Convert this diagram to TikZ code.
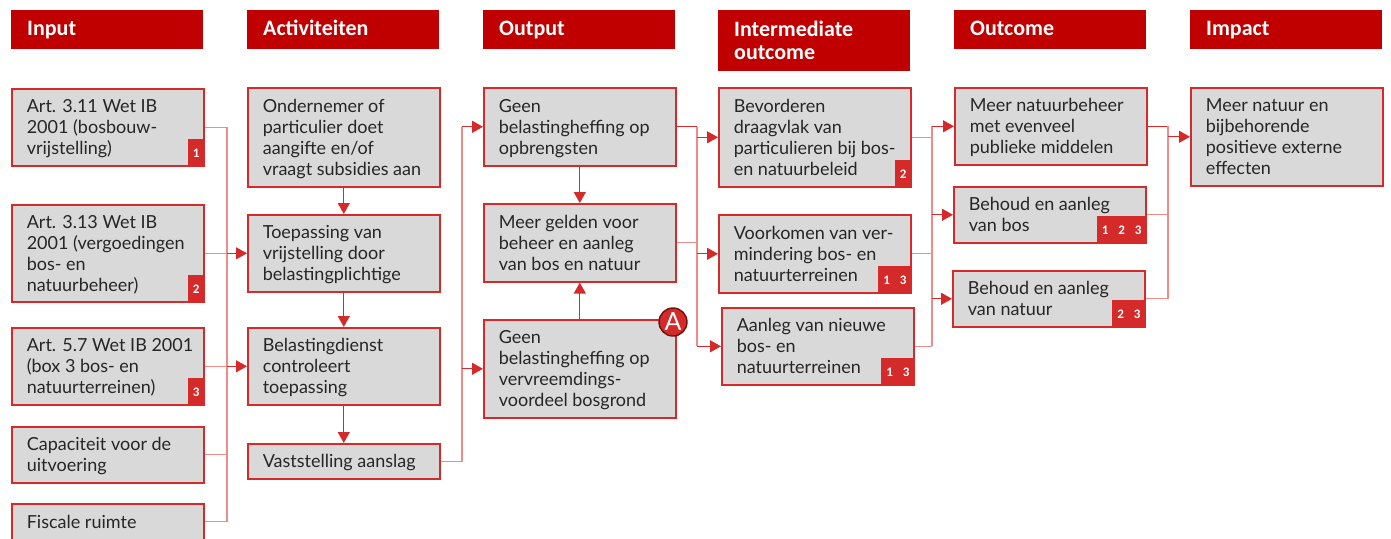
\documentclass[tikz,border=0pt]{standalone}
\usepackage{fontspec}
\setmainfont{Lato}
\newfontfamily\headfont{Carlito}
\usetikzlibrary{arrows.meta}

\definecolor{hdr}{HTML}{C00000}
\definecolor{edge}{HTML}{D42A2A}
\definecolor{boxfill}{HTML}{D9D9D9}
\definecolor{lite}{HTML}{EE8C8C}
\definecolor{ink}{HTML}{262626}
\definecolor{ringdark}{HTML}{6E1010}

\tikzset{
  header/.style={fill=hdr, anchor=north west, text=white,
    font=\headfont\bfseries\fontsize{22}{23}\selectfont,
    inner xsep=16pt, inner ysep=0pt, text width=160pt, align=left,
    text height=15pt, text depth=4pt, minimum height=39pt},
  header2/.style={fill=hdr, anchor=north west, text=white,
    font=\headfont\bfseries\fontsize{22}{23}\selectfont,
    inner xsep=16pt, inner ysep=0pt, text width=160pt, align=left,
    minimum height=61pt},
  box/.style={draw=edge, fill=boxfill, line width=1.6pt, anchor=north west,
    text=ink, font=\fontsize{18}{21}\selectfont,
    inner xsep=15pt, inner ysep=0pt, minimum height=#1},
  tag/.style={fill=edge, text=white, anchor=south east, inner sep=0pt,
    minimum height=27pt, font=\headfont\bfseries\fontsize{13}{13}\selectfont},
  feed/.style={draw=lite, line width=1.3pt},
  link/.style={draw=edge, line width=1.3pt, -{Triangle[length=11pt,width=12pt]}},
}
% box text: left aligned lines in a fixed 162pt slot, long lines may run on;
% the rules balance the block on the capitals of the first and last line
\newcommand{\bt}[1]{\hbox to 162pt{\parbox[c]{230pt}{\raggedright
  \rule{0pt}{17pt}#1\rule[-4pt]{0pt}{4pt}}\hss}}
\newcommand{\cell}[1]{\makebox[16.5pt]{#1}}

\begin{document}
\begin{tikzpicture}[x=1pt, y=-1pt]
\useasboundingbox (0,0) rectangle (1391,538);
\clip (0,0) rectangle (1391,538);

% column headers
\node[header] (hin)  at (11,10)   {Input};
\node[header] (hact) at (247,10)  {Activiteiten};
\node[header] (hout) at (483,10)  {Output};
\node[header2] (hint) at (718,10) {Intermediate\\outcome};
\node[header] (hoc)  at (954,10)  {Outcome};
\node[header] (him)  at (1190,10) {Impact};

% input
\node[box=77pt] (in1) at (11,88)  {\bt{Art. 3.11 Wet IB\\2001 (bosbouw-\\vrijstelling)}};
\node[box=97pt] (in2) at (11,204) {\bt{Art. 3.13 Wet IB\\2001 (vergoedingen\\bos- en\\natuurbeheer)}};
\node[box=77pt] (in3) at (11,327) {\bt{Art. 5.7 Wet IB 2001\\(box 3 bos- en\\natuurterreinen)}};
\node[box=56pt] (in4) at (11,426) {\bt{Capaciteit voor de\\uitvoering}};
\node[box=36pt] (in5) at (11,503) {\bt{Fiscale ruimte}};

% activities
\node[box=99pt] (act1) at (247,87)  {\bt{Ondernemer of\\particulier doet\\aangifte en/of\\vraagt subsidies aan}};
\node[box=77pt] (act2) at (247,214) {\bt{Toepassing van\\vrijstelling door\\belastingplichtige}};
\node[box=77pt] (act3) at (247,327) {\bt{Belastingdienst\\controleert\\toepassing}};
\node[box=35pt] (act4) at (247,443) {\bt{Vaststelling aanslag}};

% output
\node[box=78pt] (out1) at (483,87)  {\bt{Geen\\belastingheffing op\\opbrengsten}};
\node[box=78pt] (out2) at (483,203) {\bt{Meer gelden voor\\beheer en aanleg\\van bos en natuur}};
\node[box=98pt] (out3) at (483,319) {\bt{Geen\\belastingheffing op\\vervreemdings-\\voordeel bosgrond}};

% intermediate outcome
\node[box=99pt] (int1) at (718,87)  {\bt{Bevorderen\\draagvlak van\\particulieren bij bos-\\en natuurbeleid}};
\node[box=78pt] (int2) at (718,214) {\bt{Voorkomen van ver-\\mindering bos- en\\natuurterreinen}};
\node[box=77pt] (int3) at (721,307) {\bt{Aanleg van nieuwe\\bos- en\\natuurterreinen}};

% outcome
\node[box=77pt] (oc1) at (954,87)  {\bt{Meer natuurbeheer\\met evenveel\\publieke middelen}};
\node[box=56pt] (oc2) at (953,186) {\bt{Behoud en aanleg\\van bos}};
\node[box=56pt] (oc3) at (952,270) {\bt{Behoud en aanleg\\van natuur}};

% impact
\node[box=98pt] (im1) at (1190,87) {\bt{Meer natuur en\\bijbehorende\\positieve externe\\effecten}};

% reference tags
\node[tag] (g1) at (in1.south east)  {\cell{1}};
\node[tag] (g2) at (in2.south east)  {\cell{2}};
\node[tag] (g3) at (in3.south east)  {\cell{3}};
\node[tag] (g4) at (int1.south east) {\cell{2}};
\node[tag] (g5) at (int2.south east) {\cell{1}\cell{3}};
\node[tag] (g6) at (int3.south east) {\cell{1}\cell{3}};
\node[tag] (g7) at (oc2.south east)  {\cell{1}\cell{2}\cell{3}};
\node[tag] (g8) at (oc3.south east)  {\cell{2}\cell{3}};

% marker on the output box
\node[circle, fill=edge, draw=ringdark, line width=1.4pt, minimum size=28pt,
      inner sep=0pt, text=white, font=\fontsize{25}{25}\selectfont] (mA) at (673,322) {A};

% trunk positions
\coordinate (x1) at (227,0);
\coordinate (x2) at (462,0);
\coordinate (x3) at (697,0);
\coordinate (x4) at (932,0);
\coordinate (x5) at (1168,0);

% input -> activities
\draw[feed] (in1.east) -- (in1.east -| x1) -- (in5.east -| x1) -- (in5.east);
\draw[feed] (in2.east) -- (in2.east -| x1);
\draw[feed] (in3.east) -- (in3.east -| x1);
\draw[feed] (in4.east) -- (in4.east -| x1);
\draw[link] (in2.east -| x1) -- (act2.west);
\draw[link] (in3.east -| x1) -- (act3.west);

% activity chain
\draw[link] (act1) -- (act2);
\draw[link] (act2) -- (act3);
\draw[link] (act3) -- (act4);

% activities -> output
\draw[feed] (act4.east) -- (act4.east -| x2) -- (out1.west -| x2);
\draw[link] (out1.west -| x2) -- (out1.west);
\draw[link] (out3.west -| x2) -- (out3.west);
\draw[link] (out1) -- (out2);
\draw[link] (out3) -- (out2);

% output -> intermediate outcome
\draw[link, -] (out1.east) -- (out1.east -| x3);
\draw[feed] (out2.east) -- (out2.east -| x3);
\draw[feed] (out1.east -| x3) -- (int3.west -| x3);
\draw[link] (int1.west -| x3) -- (int1.west);
\draw[link] (int2.west -| x3) -- (int2.west);
\draw[link] (int3.west -| x3) -- (int3.west);

% intermediate outcome -> outcome
\draw[feed] (int1.east) -- (int1.east -| x4);
\draw[feed] (int2.east) -- (int2.east -| x4);
\draw[feed] (int3.east) -- (int3.east -| x4);
\draw[feed] (oc1.west -| x4) -- (int3.east -| x4);
\draw[link] (oc1.west -| x4) -- (oc1.west);
\draw[link] (oc2.west -| x4) -- (oc2.west);
\draw[link] (oc3.west -| x4) -- (oc3.west);

% outcome -> impact
\draw[link, -] (oc1.east) -- (oc1.east -| x5);
\draw[feed] (oc2.east) -- (oc2.east -| x5);
\draw[feed] (oc3.east) -- (oc3.east -| x5);
\draw[feed] (oc1.east -| x5) -- (oc3.east -| x5);
\draw[link] (im1.west -| x5) -- (im1.west);
\end{tikzpicture}
\end{document}
